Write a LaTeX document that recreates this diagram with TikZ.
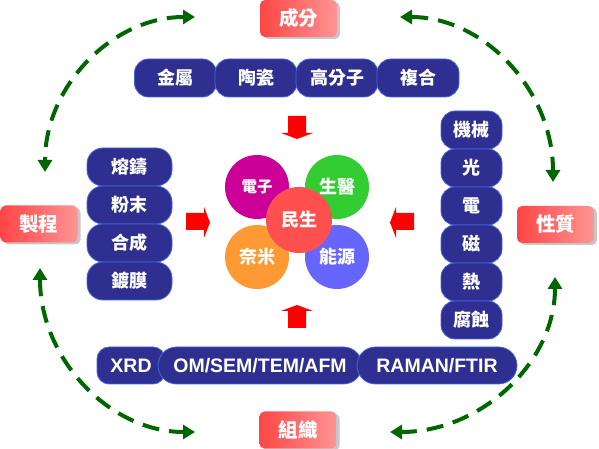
\documentclass[tikz,border=0pt]{standalone}
\usepackage{fontspec}
\newfontfamily\cjk{Noto Sans CJK TC}
\newfontfamily\lat{Liberation Sans}
\usetikzlibrary{arrows.meta,shadows}
\definecolor{navy}{HTML}{2F2F91}
\definecolor{navyedge}{HTML}{4466DD}
\definecolor{garrow}{HTML}{006600}
\definecolor{lblA}{HTML}{FF4545}
\definecolor{lblB}{HTML}{FF9494}
\definecolor{cMag}{HTML}{CC0099}
\definecolor{cGrn}{HTML}{33CC33}
\definecolor{cOrg}{HTML}{FF9933}
\definecolor{cBlu}{HTML}{6666FF}
\definecolor{cRed}{HTML}{FF5050}
\begin{document}
\begin{tikzpicture}[x=1pt,y=1pt,
  bbox/.style={draw=navyedge, line width=0.8pt, fill=navy, text=white,
    minimum height=38pt, inner sep=0pt, rounded corners=14pt,
    font=\cjk\bfseries\fontsize{18}{18}\selectfont},
  lbox/.style={bbox, font=\lat\bfseries\fontsize{19.5}{19.5}\selectfont, minimum height=37pt},
  lbl/.style={minimum width=77pt, minimum height=37pt, inner sep=0pt,
    rounded corners=5pt, left color=lblA, right color=lblB, text=white,
    font=\cjk\bfseries\fontsize{19.5}{19.5}\selectfont,
    drop shadow={shadow xshift=3pt, shadow yshift=-2pt, fill=black!22, opacity=1}},
  circ/.style={circle, minimum size=64pt, inner sep=0pt, text=white,
    font=\cjk\bfseries\fontsize{18}{18}\selectfont},
  garc/.style={draw=garrow, line width=4pt, dash pattern=on 17pt off 10pt,
    {Triangle[length=12pt,width=14pt]}-{Triangle[length=12pt,width=14pt]}},
  redarr/.style={fill=red}
]
\fill[white] (0,0) rectangle (599,449);
\useasboundingbox (0,0) rectangle (599,449);

% green dashed arcs
\coordinate (tlA) at (195,432);
\coordinate (trA) at (400,432);
\coordinate (brA) at (555,172);
\coordinate (blA) at (40,181);
\draw[garc] (tlA) arc[start angle=90, end angle=180, x radius=150, y radius=155];
\draw[garc] (trA) arc[start angle=90, end angle=0, x radius=153, y radius=165];
\draw[garc] (brA) arc[start angle=0, end angle=-90, x radius=165, y radius=155];
\draw[garc] (blA) arc[start angle=180, end angle=270, x radius=155, y radius=164];

% red labels
\node[lbl] (chengfen) at (298.5,430.5) {成分};
\node[lbl] (zhicheng) at (39,225) {製程};
\node[lbl] (xingzhi) at (555.5,224.5) {性質};
\node[lbl] (zuzhi) at (298,19) {組織};

% top row
\node[bbox, minimum width=82pt] (m1) at (175.5,371) {金屬};
\node[bbox, minimum width=82pt] (m2) at (256,371) {陶瓷};
\node[bbox, minimum width=82pt] (m3) at (337,371) {高分子};
\node[bbox, minimum width=82pt] (m4) at (418,371) {複合};

% left column
\node[bbox, minimum width=85pt, rounded corners=16pt] (p1) at (129.5,282) {熔鑄};
\node[bbox, minimum width=85pt, rounded corners=16pt] (p2) at (129.5,244) {粉末};
\node[bbox, minimum width=85pt, rounded corners=16pt] (p3) at (129.5,206) {合成};
\node[bbox, minimum width=85pt, rounded corners=16pt] (p4) at (129.5,168) {鍍膜};

% right column
\node[bbox, minimum width=61pt] (q1) at (471.5,319) {機械};
\node[bbox, minimum width=61pt] (q2) at (471.5,281) {光};
\node[bbox, minimum width=61pt] (q3) at (471.5,243) {電};
\node[bbox, minimum width=61pt] (q4) at (471.5,205) {磁};
\node[bbox, minimum width=61pt] (q5) at (471.5,167) {熱};
\node[bbox, minimum width=61pt] (q6) at (471.5,129) {腐蝕};

% bottom row
\node[lbox, minimum width=68pt, rounded corners=12pt] (b1) at (131,83.5) {XRD};
\node[lbox, minimum width=204pt, rounded corners=18.5pt] (b2) at (260,83.5) {OM/SEM/TEM/AFM};
\node[lbox, minimum width=160pt, rounded corners=18.5pt] (b3) at (437,83.5) {RAMAN/FTIR};

% circles
\node[circ, fill=cMag, font=\cjk\bfseries\fontsize{15.5}{15.5}\selectfont] (c1) at (257,262) {電子};
\node[circ, fill=cGrn] (c2) at (337,262) {生醫};
\node[circ, fill=cOrg] (c3) at (257,192) {奈米};
\node[circ, fill=cBlu] (c4) at (337,192) {能源};
\node[circ, fill=cRed, minimum size=66pt] (c5) at (299,229) {民生};

% red block arrows
\fill[redarr] (288,333) -- (306,333) -- (306,316) -- (313,316) -- (297,310) -- (281,316) -- (288,316) -- cycle;
\fill[redarr] (288,121) -- (306,121) -- (306,138) -- (313,138) -- (297,144) -- (281,138) -- (288,138) -- cycle;
\fill[redarr] (186,236) -- (204,236) -- (204,242) -- (210,226.5) -- (204,211) -- (204,219) -- (186,219) -- cycle;
\fill[redarr] (414,236) -- (396,236) -- (396,242) -- (390,226.5) -- (396,211) -- (396,219) -- (414,219) -- cycle;
\end{tikzpicture}
\end{document}
